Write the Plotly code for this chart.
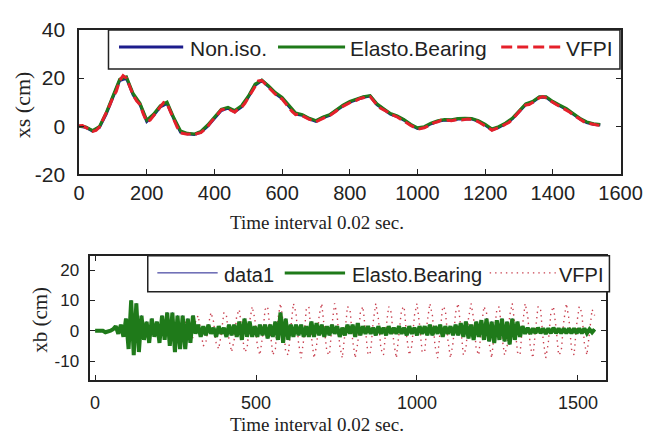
import plotly.graph_objects as go

# ---------------- data ----------------
# top plot: xs (cm)
t_top = list(range(0, 1541, 20))
xs_noniso = [0, -0.5, -2, -0.5, 5, 12, 19, 20, 13, 9,
             2, 4.5, 8, 9.5, 3, -2.5, -3.2, -3.5, -2.5, 0,
             3.5, 6.5, 7.5, 6, 8, 12, 17, 19, 16.5, 13.5,
             11.5, 8, 5, 4.5, 3, 2, 3.5, 4.5, 6.5, 8.5,
             10, 11, 12, 12.5, 9, 7, 5, 4, 2.5, 0.5,
             -1, -0.5, 1, 2, 2.5, 2.5, 3, 3, 3, 2,
             0.5, -1.5, -0.5, 1, 3, 6, 9, 10, 12, 12,
             10, 8.5, 7, 5, 3, 1.5, 0.8, 0.5]
xs_elasto = [0, -0.3, -1.8, -0.2, 5.5, 12.5, 19.5, 20.5, 13.5, 9.5,
             2.5, 5, 8.5, 10, 3.5, -2, -3, -3.3, -2.2, 0.5,
             4, 7, 7.8, 6.5, 8.5, 12.5, 17.5, 19.2, 16.8, 14,
             12, 8.5, 5.5, 4.8, 3.3, 2.3, 3.8, 4.8, 6.8, 8.8,
             10.3, 11.3, 12.3, 12.7, 9.3, 7.3, 5.3, 4.3, 2.8, 0.8,
             -0.7, -0.2, 1.3, 2.3, 2.8, 2.7, 3.2, 3.3, 3.2, 2.3,
             0.8, -1.2, -0.2, 1.3, 3.3, 6.3, 9.3, 10.3, 12.2, 12.2,
             10.3, 8.8, 7.3, 5.3, 3.3, 1.8, 1, 0.7]
t_top_vfpi = list(range(0, 1551, 10))
xs_vfpi = [0.2, 0.3, -0.6, -1.2, -2.2, -1.8, -0.4, 2.5, 5, 8.5,
           12, 14.5, 19, 21, 20, 16, 12.8, 10.5, 9, 5,
           1.8, 2.5, 4.5, 6.5, 8, 9.8, 9.3, 6, 2.8, -0.5,
           -2.8, -3, -3.4, -3.2, -3.6, -3, -2.7, -1.5, -0.2, 1.8,
           3.3, 5, 6.8, 7.2, 7.3, 6.5, 5.8, 7.2, 7.8, 9.5,
           11.8, 14.5, 16.8, 18.8, 19, 17.5, 16.3, 14.5, 13.3, 12,
           11.3, 9.5, 7.8, 6, 4.8, 5, 4.3, 3.5, 2.8, 2.5,
           1.8, 2.5, 3.3, 3.8, 4.3, 5.5, 6.3, 7.5, 8.3, 9,
           9.8, 10.5, 10.8, 11.5, 11.8, 12.5, 12.3, 10.5, 8.8, 7.5,
           6.8, 6, 4.8, 4.5, 3.8, 3, 2.3, 1.2, 0.3, -0.5,
           -1.2, -1, -0.7, 0, 0.8, 1.5, 1.8, 2.5, 2.3, 2.5,
           2.3, 2.5, 2.8, 2.6, 2.8, 3, 2.8, 2.5, 1.8, 1,
           0.3, -0.8, -1.7, -1.2, -0.7, 0, 0.8, 1.5, 2.8, 4.5,
           5.8, 7.5, 8.8, 9, 9.8, 11, 11.8, 12.3, 11.8, 10.8,
           9.8, 9, 8.3, 7.5, 6.8, 5.8, 4.8, 3.8, 2.8, 2,
           1.3, 1, 0.6, 0.5, 0.4, 0.5]

# bottom plot: xb (cm), sampled every 8 time steps
t_bot = list(range(0, 1553, 8))
xb_elasto = [0, 0, -0.3, 0, -0.5, -0.3, 0, 0.5, 1.5, -1,
             2, -2, 4, -6, 10, -8, 9, -7, 5, -3,
             3, -4, 4, -2, 3, -4, 5, -3, 6, -5,
             6, -7, 5, -6, 5, -6, 4, -4, 5, -1,
             2, -2, 1.5, -1.5, 2, -1, 1, -2, 1.5, -1,
             1, -2, 2, -1.5, 2, -2, 3, -3, 4, -2,
             3, -2, 1.5, -2, 2, -1.5, 2, -2.5, 2, -2,
             3, -3, 6, -4, 4, -3, 2, -2, 2, -1.5,
             2, -2, 1.5, -2, 3, -2, 2.5, -1.5, 2, -2,
             1.5, -1.5, 2, -1, 1.5, -2, 1, -1.5, 2, -1,
             2, -2, 2.5, -1.5, 1.5, -1, 1.5, -1, 1, -1.5,
             1.5, -1, 1, -1.5, 1.5, -1, 1, -1, 1.5, -1,
             1, -1.5, 1.5, -1, 1, -1.5, 1.5, -1, 1.5, -1.5,
             2, -1.5, 1.5, -1, 2, -2, 1.5, -1, 1.5, -1.5,
             2, -1.5, 2.5, -2, 3, -2.5, 2, -3, 3, -2,
             3.5, -3, 4, -3.5, 3, -4, 3.5, -3, 4, -3.5,
             3, -4.5, 4, -3, 3, -2, 1.5, -1, 1, -1,
             0.8, -0.8, 1, -0.8, 0.8, -1, 0.8, -0.8, 1, -0.8,
             0.8, -0.8, 0.8, -0.8, 0.8, -0.8, 0.8, -0.8, 0.8, -0.8,
             0.8, -0.8, 0.5, -0.5, 0.5]
# data1 lies underneath the Elasto.Bearing trace
xb_data1 = list(xb_elasto)

t_vfpi = list(range(280, 1553, 8))
xb_vfpi = [3, -1, -4, -2, 3, 5, 0, -5, -4, 2,
           6, 3, -4, -6, -1, 6, 5, -3, -7, -3,
           5, 7, 0, -7, -6, 3, 8, 4, -5, -8,
           -2, 7, 8, -1, -8, -6, 4, 9, 3, -7,
           -8, 1, 9, 6, -4, -9, -3, 7, 8, -2,
           -9, -5, 5, 9, 2, -7, -8, 2, 9, 5,
           -5, -9, -1, 8, 7, -3, -9, -4, 6, 8,
           0, -8, -7, 3, 9, 4, -6, -8, 1, 8,
           6, -4, -9, -2, 7, 8, -2, -8, -5, 5,
           9, 2, -7, -7, 3, 9, 5, -5, -9, 0,
           8, 7, -3, -9, -4, 6, 9, 1, -8, -6,
           4, 9, 4, -6, -8, 1, 8, 6, -4, -9,
           -2, 7, 8, -2, -8, -5, 5, 9, 2, -7,
           -8, 2, 9, 5, -5, -9, 0, 8, 7, -3,
           -9, -4, 6, 8, 1, -8, -7, 3, 9, 4,
           -6, -8, 2, 8, 6, -4, -8, -1, 7, 5]

top_xticks = [0, 200, 400, 600, 800, 1000, 1200, 1400, 1600]
top_yticks = [-20, 0, 20, 40]
bot_xticks = [0, 500, 1000, 1500]
bot_yticks = [-10, 0, 10, 20]

top_names = ["Non.iso.", "Elasto.Bearing", "VFPI"]
bot_names = ["data1", "Elasto.Bearing", "VFPI"]

# ---------------- style ----------------
W, H = 664, 448
BLUE = "#1c1c8c"
GREEN = "#1f7a1a"
RED = "#e5202a"
RED2 = "#c8404f"
SANS = "Liberation Sans, Arial"
SERIF = "Liberation Serif, Times New Roman, serif"
INK = "#222"


def px(x):
    return x / W


def py(y):
    return 1 - y / H


def lbl(v):
    return str(v).replace("\u2212", "-")


fig = go.Figure()
fig.add_trace(go.Scatter(x=t_top, y=xs_noniso, mode="lines", name=top_names[0],
                         line=dict(color=BLUE, width=3), xaxis="x", yaxis="y"))
fig.add_trace(go.Scatter(x=t_top, y=xs_elasto, mode="lines", name=top_names[1],
                         line=dict(color=GREEN, width=3), xaxis="x", yaxis="y"))
fig.add_trace(go.Scatter(x=t_top_vfpi, y=xs_vfpi, mode="lines", name=top_names[2],
                         line=dict(color=RED, width=3, dash="10px,5px"), xaxis="x", yaxis="y"))

fig.add_trace(go.Scatter(x=t_vfpi, y=xb_vfpi, mode="lines", name=bot_names[2],
                         line=dict(color=RED2, width=1.4, dash="1.4px,4px"), xaxis="x2", yaxis="y2"))
fig.add_trace(go.Scatter(x=t_bot, y=xb_data1, mode="lines", name=bot_names[0],
                         line=dict(color=BLUE, width=1), xaxis="x2", yaxis="y2"))
fig.add_trace(go.Scatter(x=t_bot, y=xb_elasto, mode="lines", name=bot_names[1],
                         line=dict(color=GREEN, width=4), xaxis="x2", yaxis="y2"))

axis_common = dict(showline=True, linecolor=INK, linewidth=1.5, mirror="ticks",
                   ticks="inside", ticklen=5, tickcolor=INK, tickwidth=1.2,
                   showgrid=False, zeroline=False, ticklabeloverflow="allow")

fig.update_layout(
    width=W, height=H, margin=dict(l=0, r=0, t=0, b=0),
    paper_bgcolor="white", plot_bgcolor="white", showlegend=False,
    xaxis=dict(domain=[px(76.3), px(641.6)], range=[0, 1600], tickvals=top_xticks,
               ticktext=[lbl(v) for v in top_xticks],
               tickfont=dict(family=SANS, size=20, color=INK), anchor="y",
               ticklabelstandoff=0, **axis_common),
    yaxis=dict(domain=[py(171), py(19)], range=[-20, 40], tickvals=top_yticks,
               ticktext=[lbl(v) for v in top_yticks],
               tickfont=dict(family=SANS, size=21, color=INK), anchor="x",
               ticklabelstandoff=8, **axis_common),
    xaxis2=dict(domain=[px(88), px(626)], range=[-15, 1586], tickvals=bot_xticks,
                ticktext=[lbl(v) for v in bot_xticks],
                tickfont=dict(family=SANS, size=18, color=INK), anchor="y2",
                ticklabelstandoff=6, **axis_common),
    yaxis2=dict(domain=[py(388), py(257)], range=[-16.25, 24.7], tickvals=bot_yticks,
                ticktext=[lbl(v) for v in bot_yticks],
                tickfont=dict(family=SANS, size=17, color=INK), anchor="x2",
                ticklabelstandoff=6, **axis_common),
)

shapes = []
annos = []

# axis titles
annos.append(dict(text="Time interval 0.02 sec.", x=px(325), y=py(222), xref="paper", yref="paper",
                  xanchor="center", yanchor="middle", showarrow=False,
                  font=dict(family=SERIF, size=19, color=INK)))
annos.append(dict(text="Time interval 0.02 sec.", x=px(325), y=py(448), xref="paper", yref="paper",
                  xanchor="center", yanchor="bottom", showarrow=False,
                  font=dict(family=SERIF, size=19, color=INK)))
annos.append(dict(text="xs (cm)", x=px(18), y=py(98), xref="paper", yref="paper", textangle=-90,
                  xanchor="center", yanchor="middle", showarrow=False,
                  font=dict(family=SERIF, size=22, color=INK)))
annos.append(dict(text="xb (cm)", x=px(36), y=py(324), xref="paper", yref="paper", textangle=-90,
                  xanchor="center", yanchor="middle", showarrow=False,
                  font=dict(family=SERIF, size=21, color=INK)))


# legends (drawn manually to match sample lengths)
def legend(box, entries, font):
    x0, y0, x1, y1 = box
    shapes.append(dict(type="rect", xref="paper", yref="paper", x0=px(x0), x1=px(x1),
                       y0=py(y1), y1=py(y0), line=dict(color=INK, width=1.5),
                       fillcolor="white", layer="above"))
    for (lx0, lx1, ly, lstyle, tx, ty, name) in entries:
        shapes.append(dict(type="line", xref="paper", yref="paper", x0=px(lx0), x1=px(lx1),
                           y0=py(ly), y1=py(ly), line=lstyle, layer="above"))
        annos.append(dict(text=name, x=px(tx), y=py(ty), xref="paper", yref="paper",
                          xanchor="left", yanchor="middle", showarrow=False, font=font))


legend((107, 19, 641, 60), [
    (118, 185, 37, dict(color=BLUE, width=3), 190, 39, top_names[0]),
    (284, 354, 37, dict(color=GREEN, width=3), 357, 39, top_names[1]),
    (517, 580, 37, dict(color=RED, width=3, dash="11px,5px"), 583, 39, top_names[2]),
], dict(family=SANS, size=21, color=INK))

legend((148, 257, 630, 295), [
    (158, 221, 275, dict(color=BLUE, width=1), 226, 277, bot_names[0]),
    (291, 354, 275, dict(color=GREEN, width=3), 359, 277, bot_names[1]),
    (505, 574, 275, dict(color=RED2, width=1.4, dash="1.4px,4px"), 575, 277, bot_names[2]),
], dict(family=SANS, size=20, color=INK))

fig.update_layout(shapes=shapes, annotations=annos)
fig.write_html("out.html")
